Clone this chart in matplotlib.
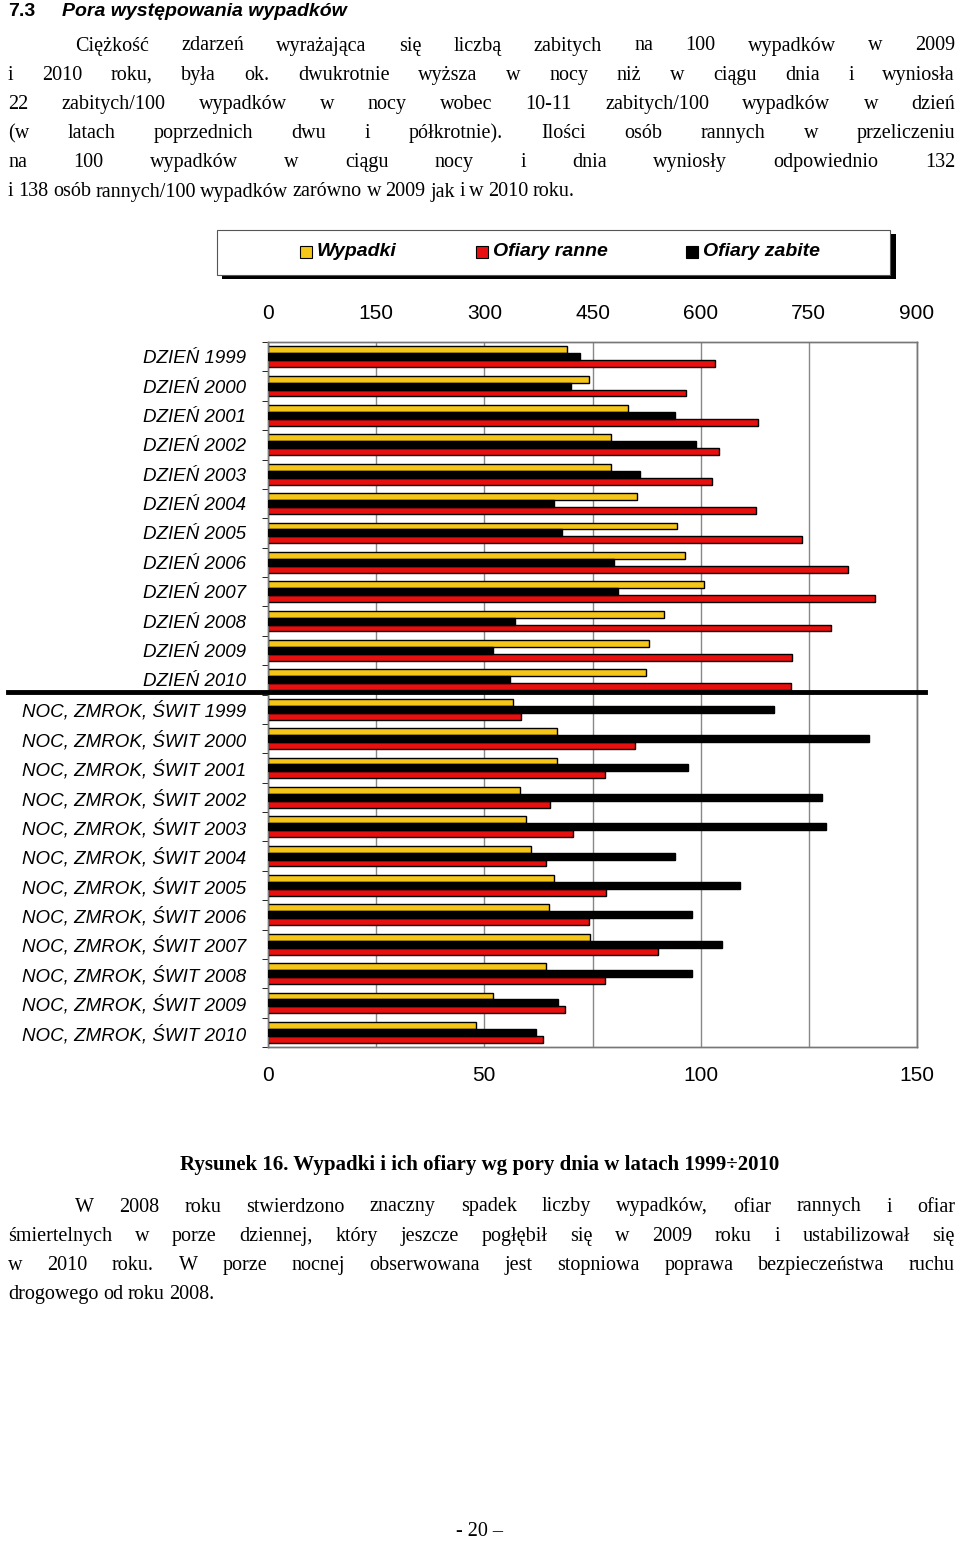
import matplotlib
matplotlib.use("Agg")
import matplotlib.pyplot as plt
import numpy as np
from matplotlib import font_manager as fm
from matplotlib.patches import Rectangle

names = {f.name for f in fm.fontManager.ttflist}
NARROW = "Liberation Sans Narrow" if "Liberation Sans Narrow" in names else "Liberation Sans"

categories = ([f"DZIEŃ {y}" for y in range(1999, 2011)] +
              [f"NOC, ZMROK, ŚWIT {y}" for y in range(1999, 2011)])
wypadki = [414, 445, 499, 475, 475, 512, 567, 578, 605, 549, 528, 524,
           340, 401, 401, 350, 358, 365, 396, 389, 447, 386, 312, 288]
ranne = [620, 580, 680, 625, 616, 677, 740, 805, 842, 781, 727, 725,
         351, 509, 467, 391, 423, 386, 469, 445, 541, 468, 412, 381]
zabite = [72, 70, 94, 99, 86, 66, 68, 80, 81, 57, 52, 56,
          117, 139, 97, 128, 129, 94, 109, 98, 105, 98, 67, 62]
top_ticks = [0, 150, 300, 450, 600, 750, 900]
bot_ticks = [0, 50, 100, 150]

W, H = 960, 1543
fig = plt.figure(figsize=(W/100, H/100), dpi=100)
SERIF = "Liberation Serif"

def fx(x): return x / W
def fy(y): return 1 - y / H

renderer = fig.canvas.get_renderer()

def justify(y, text, x0=8, x1=955, size=14.5, last=False):
    words = text.split(" ")
    arts = [fig.text(0, fy(y), w, fontsize=size, family=SERIF, va="center") for w in words]
    widths = [a.get_window_extent(renderer).width for a in arts]
    if last or len(words) == 1:
        gap = 4.5
    else:
        gap = (x1 - x0 - sum(widths)) / (len(words) - 1)
    x = x0
    for a, w in zip(arts, widths):
        a.set_x(fx(x)); x += w + gap

fig.text(fx(8), fy(12), "7.3", fontsize=14, family="Liberation Sans", weight="bold", va="center")
fig.text(fx(62), fy(12), "Pora występowania wypadków", fontsize=14, family="Liberation Sans",
         weight="bold", style="italic", va="center")

para1 = ["     Ciężkość zdarzeń wyrażająca się liczbą zabitych na 100 wypadków w 2009",
         "i 2010 roku, była ok. dwukrotnie wyższa w nocy niż w ciągu dnia i wyniosła",
         "22 zabitych/100 wypadków w nocy wobec 10-11 zabitych/100 wypadków w dzień",
         "(w latach poprzednich dwu i półkrotnie). Ilości osób rannych w przeliczeniu",
         "na 100 wypadków w ciągu nocy i dnia wyniosły odpowiednio 132",
         "i 138 osób rannych/100 wypadków zarówno w 2009 jak i w 2010 roku."]
for i, line in enumerate(para1):
    x0 = 8
    if line.startswith("     "):
        line = line.strip(); x0 = 75
    justify(46 + i * 29.2, line, x0=x0, last=(i == len(para1) - 1))

para2 = ["     W 2008 roku stwierdzono znaczny spadek liczby wypadków, ofiar rannych i ofiar",
         "śmiertelnych w porze dziennej, który jeszcze pogłębił się w 2009 roku i ustabilizował się",
         "w 2010 roku. W porze nocnej obserwowana jest stopniowa poprawa bezpieczeństwa ruchu",
         "drogowego od roku 2008."]
for i, line in enumerate(para2):
    x0 = 8
    if line.startswith("     "):
        line = line.strip(); x0 = 75
    justify(1207 + i * 29.2, line, x0=x0, last=(i == len(para2) - 1))

fig.text(0.5, fy(1165), "Rysunek 16. Wypadki i ich ofiary wg pory dnia w latach 1999÷2010",
         fontsize=15, family=SERIF, weight="bold", ha="center", va="center")
fig.text(0.5, fy(1532), "- 20 –", fontsize=14.5, family=SERIF, ha="center", va="center")

fig.patches.append(Rectangle((fx(222), fy(279)), fx(674), 45/H, transform=fig.transFigure,
                             facecolor="black", edgecolor="none"))
fig.patches.append(Rectangle((fx(217), fy(275)), fx(673), 45/H, transform=fig.transFigure,
                             facecolor="white", edgecolor="#555555", lw=0.8))
for xs, lab, col in [(300, "Wypadki", "#f5c518"), (476, "Ofiary ranne", "#e8100e"),
                     (686, "Ofiary zabite", "black")]:
    fig.patches.append(Rectangle((fx(xs), fy(258)), fx(12), 12/H, transform=fig.transFigure,
                                 facecolor=col, edgecolor="black", lw=0.8))
    fig.text(fx(xs + 17), fy(252), lab, fontsize=14, family=NARROW, weight="bold",
             style="italic", va="center")

ax = fig.add_axes([fx(268), fy(1047), fx(917 - 268), (1047 - 342) / H])
n = len(categories)
y = np.arange(n)
h = 0.235
ax.barh(y - h, wypadki, height=h, color="#f5c518", edgecolor="black", lw=1.0, zorder=3)
ax.barh(y + h, ranne, height=h, color="#e8100e", edgecolor="black", lw=1.0, zorder=3)
ax2 = ax.twiny()
ax2.barh(y, zabite, height=h, color="black", edgecolor="black", lw=1.0, zorder=3)
ax.set_ylim(n - 0.5, -0.5)
ax.set_xlim(0, 900)
ax2.set_xlim(0, 150)
ax.xaxis.tick_top()
ax.set_xticks(top_ticks)
ax.set_xticklabels([str(t) for t in top_ticks], fontsize=15, family="Liberation Sans")
ax2.xaxis.tick_bottom()
ax2.set_xticks(bot_ticks)
ax2.set_xticklabels([str(t) for t in bot_ticks], fontsize=15, family="Liberation Sans")
ax.tick_params(axis="x", length=0, pad=14)
ax2.tick_params(axis="x", length=0, pad=14)
ax.grid(axis="x", color="#888888", lw=1.0, zorder=0)
ax.set_yticks(y)
ax.set_yticklabels(categories, fontsize=13.5, family=NARROW, style="italic")
ax.set_yticks(np.arange(n + 1) - 0.5, minor=True)
ax.tick_params(axis="y", which="major", length=0, pad=16)
ax.tick_params(axis="y", which="minor", length=4, direction="out")
for a in (ax, ax2):
    for s in a.spines.values():
        s.set_color("#777777"); s.set_lw(1.0)

fig.add_artist(plt.Line2D([fx(8), fx(925)], [fy(692), fy(692)], color="black", lw=3.5))

fig.savefig("out.png", dpi=100)
